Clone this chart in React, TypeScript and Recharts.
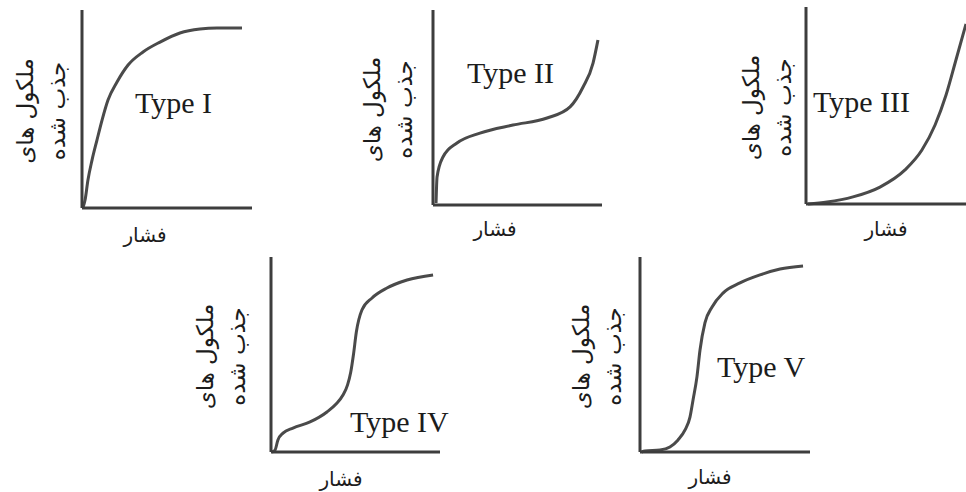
import { LineChart, Line, XAxis, YAxis, Label } from "recharts";

// Adsorption isotherms, types I–V: relative pressure vs. amount adsorbed (0–100 scale)
const typeIPressure = [0.5, 1.8, 3.5, 5.9, 8.8, 11.8, 15.3, 20.6, 27.1, 35.9, 45.9, 57.6, 69.4, 79.4, 94.1];
const typeIAmount = [0, 4, 14.1, 24.2, 34.3, 44.4, 54.5, 63.6, 72.2, 78.8, 83.8, 88.4, 90.4, 90.9, 90.9];

const typeIIPressure = [1.8, 2.4, 5.9, 14.2, 27.8, 47.3, 67.5, 81.1, 88.8, 94.7, 97.6];
const typeIIAmount = [1, 14.4, 24.6, 31.8, 36.9, 41, 44.6, 50.3, 60.5, 72.8, 84.6];

const typeIIIPressure = [1.1, 11.7, 26.1, 41.1, 55, 64.4, 71.7, 77.8, 83.3, 88.9];
const typeIIIAmount = [0, 1, 3.6, 8.6, 17.3, 27.4, 40.1, 55.3, 73.1, 91.4];

const typeIVPressure = [0.6, 2.4, 4.1, 7.1, 13, 23.1, 33.1, 38.5, 42.6, 45.3, 47.2, 48.8, 50.5, 53.8, 59.8, 68.6, 80.5, 95.9];
const typeIVAmount = [0, 1, 6.2, 9.7, 12.3, 15.4, 20.5, 24.6, 29.2, 34.4, 41, 50, 61.5, 72.8, 79, 84.1, 88.2, 90.8];

const typeVPressure = [1, 2.9, 11.8, 17.6, 22.4, 26.5, 29.4, 31.2, 33.5, 35.3, 38.2, 42.4, 48.8, 58.8, 70.6, 82.4, 95.9];
const typeVAmount = [0, 0.5, 1, 2.6, 6.2, 11.3, 17.9, 26.7, 38.5, 52.3, 66.2, 74.4, 81.5, 86.7, 90.8, 93.8, 95.4];

const typeNames = ["Type I", "Type II", "Type III", "Type IV", "Type V"];
const yTitleLines = ["ملکول های", "جذب شده"];
const xTitle = "فشار";

const series = [
  [typeIPressure, typeIAmount],
  [typeIIPressure, typeIIAmount],
  [typeIIIPressure, typeIIIAmount],
  [typeIVPressure, typeIVAmount],
  [typeVPressure, typeVAmount],
];

// plot box + where the titles sit relative to it
type Panel = {
  left: number;
  top: number;
  w: number;
  h: number;
  nameX: number;
  nameBase: number;
  yTitleDx: number;
  xTitleDx: number;
  xTitleDy: number;
};

const panels: Panel[] = [
  { left: 82, top: 10, w: 170, h: 198, nameX: 135, nameBase: 113, yTitleDx: -57, xTitleDx: 63, xTitleDy: 27 },
  { left: 433, top: 10, w: 169, h: 195, nameX: 467, nameBase: 83, yTitleDx: -61, xTitleDx: 62, xTitleDy: 24 },
  { left: 806, top: 7, w: 180, h: 197, nameX: 813, nameBase: 112, yTitleDx: -55, xTitleDx: 80, xTitleDy: 25 },
  { left: 271, top: 257, w: 169, h: 195, nameX: 350, nameBase: 432, yTitleDx: -66, xTitleDx: 70, xTitleDy: 27 },
  { left: 640, top: 257, w: 170, h: 195, nameX: 717, nameBase: 377, yTitleDx: -59, xTitleDx: 70, xTitleDy: 25 },
];

const Y_AXIS_W = 80;
const X_AXIS_H = 50;
const INK = "#1c1c1c";
const AXIS = "#3d3d3d";
const CURVE = "#4a4a4a";
const farsiFont = "'DejaVu Sans', sans-serif";

function IsothermPanel({ p, idx }: { p: Panel; idx: number }) {
  const [xs, ys] = series[idx];
  const data = xs.map((x, i) => ({ pressure: x, amount: ys[i] }));

  return (
    <div style={{ position: "absolute", left: p.left - Y_AXIS_W, top: p.top - 2 }}>
      <LineChart
        width={Y_AXIS_W + p.w + 2}
        height={p.h + X_AXIS_H + 2}
        data={data}
        margin={{ top: 2, right: 2, left: 0, bottom: 0 }}
      >
        <XAxis
          dataKey="pressure"
          type="number"
          domain={[0, 100]}
          tick={false}
          tickLine={false}
          height={X_AXIS_H}
          axisLine={{ stroke: AXIS, strokeWidth: 3 }}
        >
          <Label
            content={(props: any) => {
              const vb = props.viewBox || {};
              return (
                <text
                  x={vb.x + p.xTitleDx}
                  y={vb.y + p.xTitleDy}
                  textAnchor="middle"
                  dominantBaseline="central"
                  fontFamily={farsiFont}
                  fontSize={20}
                  fill={INK}
                  direction="rtl"
                >
                  {xTitle}
                </text>
              );
            }}
          />
        </XAxis>
        <YAxis
          type="number"
          domain={[0, 100]}
          tick={false}
          tickLine={false}
          width={Y_AXIS_W}
          axisLine={{ stroke: AXIS, strokeWidth: 3 }}
        >
          <Label
            content={(props: any) => {
              const vb = props.viewBox || {};
              const axisX = vb.x + vb.width;
              const cy = vb.y + vb.height / 2 + 2;
              return (
                <g>
                  {yTitleLines.map((line, i) => {
                    const cx = axisX + p.yTitleDx + i * 32;
                    return (
                      <text
                        key={i}
                        x={cx}
                        y={cy}
                        transform={`rotate(-90, ${cx}, ${cy})`}
                        textAnchor="middle"
                        dominantBaseline="central"
                        fontFamily={farsiFont}
                        fontSize={23}
                        fill={INK}
                        direction="rtl"
                      >
                        {line}
                      </text>
                    );
                  })}
                </g>
              );
            }}
          />
        </YAxis>
        <Line
          type="monotone"
          dataKey="amount"
          stroke={CURVE}
          strokeWidth={3}
          dot={false}
          isAnimationActive={false}
        />
      </LineChart>
    </div>
  );
}

export default function App() {
  return (
    <div
      style={{
        position: "absolute",
        left: 0,
        top: 0,
        width: 966,
        height: 492,
        overflow: "hidden",
        background: "#fff",
      }}
    >
      {panels.map((p, i) => (
        <IsothermPanel key={i} p={p} idx={i} />
      ))}
      {panels.map((p, i) => (
        <div
          key={"n" + i}
          style={{
            position: "absolute",
            left: p.nameX,
            top: p.nameBase - 25,
            fontFamily: "'Liberation Serif', 'Times New Roman', serif",
            fontSize: 30,
            lineHeight: "30px",
            color: INK,
            whiteSpace: "nowrap",
          }}
        >
          {typeNames[i]}
        </div>
      ))}
    </div>
  );
}
